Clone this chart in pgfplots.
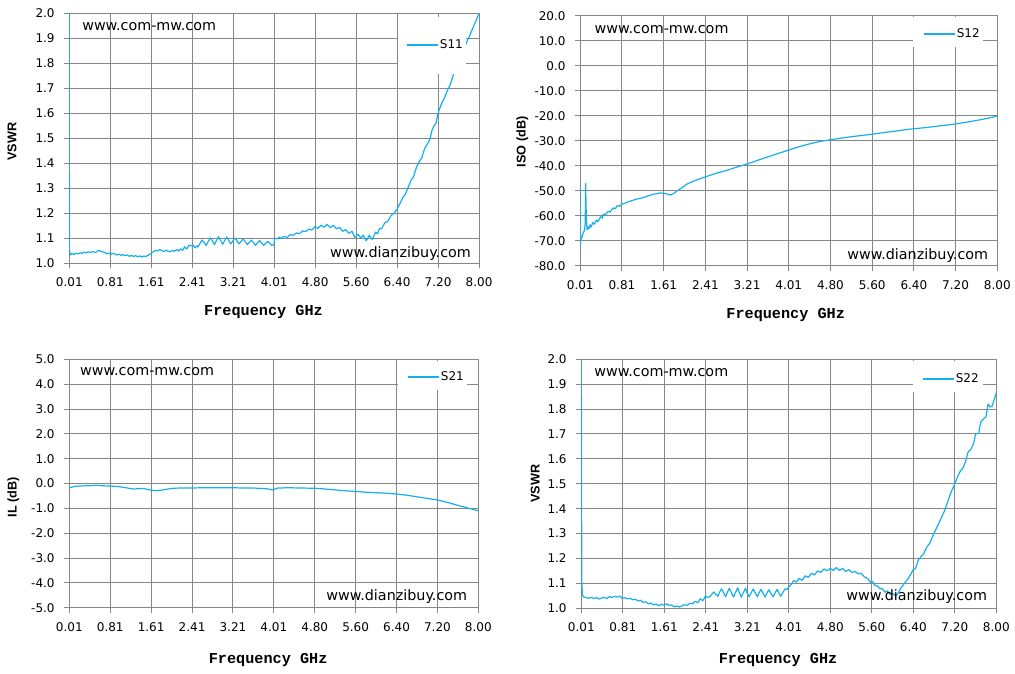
\documentclass[border=0pt]{standalone}
\usepackage{fontspec}
\setmainfont{DejaVu Sans}
\newfontfamily\lsans{Liberation Sans}
\newfontfamily\lmono{Liberation Mono}
\usepackage{pgfplots}
\pgfplotsset{compat=1.18}
\definecolor{gridgray}{RGB}{134,134,134}
\definecolor{lineblue}{RGB}{20,176,238}

\pgfplotsset{
  myaxis/.style={
    scale only axis,
    anchor=south west,
    xmin=0.01, xmax=8.0,
    xtick={0.01,0.809,1.608,2.407,3.206,4.005,4.804,5.603,6.402,7.201,8.0},
    xticklabels={0.01,0.81,1.61,2.41,3.21,4.01,4.80,5.60,6.40,7.20,8.00},
    grid=major,
    major grid style={gridgray, line width=0.75pt},
    axis line style={gridgray, line width=0.75pt},
    tick style={gridgray, line width=0.75pt},
    tick align=outside,
    major tick length=3.75pt,
    xtick pos=bottom, ytick pos=left,
    ticklabel style={font=\fontsize{9}{10}\selectfont, text=black},
    xticklabel style={yshift=-3.75pt},
    yticklabel style={xshift=-3.75pt},
    xlabel={Frequency GHz},
    xlabel style={font=\lmono\bfseries\fontsize{11.4}{13}\selectfont, anchor=center},
    ylabel style={font=\lsans\bfseries\fontsize{9.5}{11}\selectfont, anchor=center},
    legend style={draw=none, fill=none, inner sep=0pt, anchor=west, font=\fontsize{9}{10}\selectfont, nodes={inner sep=1pt}},
    legend image code/.code={\draw[#1] (0pt,0pt) -- (23.25pt,0pt);},
  },
}
\tikzset{wm/.style={anchor=base west, inner sep=0pt, font=\fontsize{10.75}{12}\selectfont, text=black},
  curve/.style={draw=lineblue, line width=0.9pt, mark=none, line join=round}}

\begin{document}
\begin{tikzpicture}
\path[use as bounding box] (0,0) rectangle (761.25pt,505.5pt);

% ---------------- S11 ----------------
\begin{axis}[myaxis,
  at={(51.98pt,308.0pt)}, width=307.3pt, height=187.5pt,
  ymin=1.0, ymax=2.0,
  ytick={1.0,1.1,1.2,1.3,1.4,1.5,1.6,1.7,1.8,1.9,2.0},
  yticklabels={1.0,1.1,1.2,1.3,1.4,1.5,1.6,1.7,1.8,1.9,2.0},
  ylabel={VSWR},
  ylabel style={at={(axis description cs:-0.14,0.487)}},
  xlabel style={at={(axis description cs:0.474,-0.195)}},
  legend style={at={(rel axis cs:0.822,0.873)}},
]
\addplot[curve] coordinates {
(0.010,2.000)(0.012,1.300)(0.015,1.050)(0.03,1.033)(0.06,1.040)(0.10,1.035)(0.14,1.040)(0.18,1.038)
(0.22,1.042)(0.26,1.040)(0.30,1.045)(0.34,1.042)(0.38,1.046)(0.42,1.043)(0.46,1.047)(0.50,1.044)
(0.54,1.045)(0.58,1.052)(0.62,1.048)(0.66,1.046)(0.70,1.044)(0.74,1.038)(0.78,1.041)(0.82,1.036)
(0.86,1.040)(0.90,1.037)(0.94,1.033)(0.98,1.037)(1.02,1.032)(1.06,1.035)(1.10,1.030)(1.14,1.034)
(1.18,1.028)(1.22,1.032)(1.26,1.027)(1.30,1.031)(1.34,1.026)(1.38,1.030)(1.42,1.025)(1.46,1.029)
(1.50,1.027)(1.54,1.032)(1.58,1.036)(1.62,1.042)(1.66,1.048)(1.70,1.052)(1.74,1.050)(1.78,1.055)
(1.82,1.050)(1.86,1.047)(1.90,1.053)(1.94,1.048)(1.98,1.046)(2.02,1.052)(2.06,1.048)(2.10,1.055)
(2.14,1.049)(2.18,1.058)(2.22,1.052)(2.26,1.066)(2.30,1.057)(2.34,1.072)(2.38,1.070)(2.42,1.074)
(2.46,1.062)(2.50,1.070)
(2.52,1.065)(2.56,1.080)(2.60,1.093)(2.64,1.083)(2.68,1.072)(2.72,1.088)(2.76,1.102)(2.80,1.090)
(2.84,1.075)(2.88,1.091)(2.92,1.106)(2.96,1.092)(3.00,1.076)(3.04,1.091)(3.08,1.105)(3.12,1.091)
(3.16,1.078)(3.20,1.090)(3.24,1.101)(3.28,1.090)(3.32,1.078)(3.36,1.088)(3.40,1.097)(3.44,1.087)
(3.48,1.075)(3.52,1.084)(3.56,1.093)(3.60,1.083)(3.64,1.072)(3.68,1.082)(3.72,1.091)(3.76,1.082)
(3.80,1.072)(3.84,1.080)(3.88,1.088)(3.92,1.080)(3.96,1.072)(4.00,1.074)(4.015,1.100)
(4.06,1.098)(4.10,1.104)(4.14,1.100)(4.20,1.108)(4.26,1.104)(4.32,1.115)(4.38,1.112)(4.44,1.122)
(4.50,1.118)(4.56,1.130)(4.62,1.127)(4.68,1.137)(4.74,1.133)(4.80,1.147)(4.86,1.140)(4.92,1.153)
(4.98,1.145)(5.04,1.156)(5.10,1.143)(5.16,1.152)(5.22,1.138)(5.28,1.144)(5.34,1.128)(5.40,1.135)
(5.46,1.120)(5.52,1.128)(5.58,1.104)(5.64,1.116)(5.70,1.100)(5.74,1.113)(5.80,1.090)(5.86,1.112)
(5.92,1.095)(5.98,1.125)(6.02,1.118)(6.06,1.140)(6.10,1.138)(6.16,1.162)(6.22,1.168)(6.28,1.190)
(6.34,1.200)(6.40,1.216)(6.46,1.240)(6.52,1.265)(6.56,1.275)(6.62,1.305)(6.68,1.335)(6.72,1.345)
(6.78,1.385)(6.84,1.410)(6.88,1.420)(6.94,1.460)(7.00,1.480)(7.04,1.495)(7.08,1.530)(7.12,1.550)
(7.16,1.560)(7.20,1.600)(7.26,1.635)(7.32,1.660)(7.38,1.690)(7.44,1.715)(7.50,1.755)(7.58,1.790)
(7.64,1.820)(7.70,1.855)(7.76,1.885)(7.82,1.912)(7.88,1.942)(7.94,1.970)(8.00,2.000)
};
\addlegendentry{S11}
\fill[white] (rel axis cs:0.802,0.757) rectangle (rel axis cs:0.968,0.985);
\node[wm] at (rel axis cs:0.031,0.930) {www.com-mw.com};
\node[wm] at (rel axis cs:0.636,0.024) {www.dianzibuy.com};
\end{axis}

% ---------------- S12 ----------------
\begin{axis}[myaxis,
  at={(435.2pt,306.0pt)}, width=312.75pt, height=187.5pt,
  ymin=-80, ymax=20,
  ytick={-80,-70,-60,-50,-40,-30,-20,-10,0,10,20},
  yticklabels={-80.0,-70.0,-60.0,-50.0,-40.0,-30.0,-20.0,-10.0,0.0,10.0,20.0},
  ylabel={ISO (dB)},
  ylabel style={at={(axis description cs:-0.139,0.497)}},
  xlabel style={at={(axis description cs:0.4926,-0.196)}},
  legend style={at={(rel axis cs:0.822,0.928)}},
]
\addplot[curve] coordinates {
(0.010,-72.5)(0.011,-48.5)(0.013,-71)(0.03,-69)(0.05,-68)(0.07,-66.5)(0.09,-66)(0.105,-63)
(0.113,-47)(0.125,-60)(0.14,-65.5)(0.16,-64.3)(0.18,-65)(0.20,-63.5)(0.22,-64.4)(0.25,-62.6)
(0.28,-63.3)(0.32,-61.6)(0.35,-62.2)(0.40,-60.3)(0.43,-60.9)(0.45,-59.3)(0.50,-59.3)(0.55,-58.0)
(0.58,-58.5)(0.64,-56.8)(0.68,-57.1)(0.72,-55.8)(0.76,-56.1)(0.81,-55.2)(0.86,-55.0)(0.90,-54.5)
(1.02,-53.7)(1.10,-53.2)(1.21,-52.7)(1.30,-52.0)(1.41,-51.3)(1.54,-50.8)(1.62,-50.9)(1.70,-51.4)
(1.74,-51.6)(1.80,-51.0)(1.85,-50.2)(1.95,-48.8)(2.05,-47.3)(2.15,-46.3)(2.24,-45.6)(2.40,-44.4)
(2.60,-43.0)(2.81,-41.8)(3.00,-40.5)(3.21,-39.2)(3.40,-37.8)(3.61,-36.3)(3.80,-35.0)(4.01,-33.6)
(4.20,-32.3)(4.41,-31.1)(4.60,-30.2)(4.80,-29.5)(5.00,-28.9)(5.20,-28.3)(5.40,-27.8)(5.60,-27.3)
(5.80,-26.7)(6.00,-26.2)(6.20,-25.6)(6.40,-25.1)(6.60,-24.7)(6.80,-24.2)(7.00,-23.7)(7.20,-23.2)
(7.40,-22.5)(7.60,-21.8)(7.80,-21.0)(8.00,-20.0)
};
\addlegendentry{S12}
\fill[white] (rel axis cs:0.798,0.876) rectangle (rel axis cs:0.966,0.995);
\node[wm] at (rel axis cs:0.034,0.928) {www.com-mw.com};
\node[wm] at (rel axis cs:0.640,0.024) {www.dianzibuy.com};
\end{axis}

% ---------------- S21 ----------------
\begin{axis}[myaxis,
  at={(52.0pt,49.7pt)}, width=306.75pt, height=186.3pt,
  ymin=-5, ymax=5,
  ytick={-5,-4,-3,-2,-1,0,1,2,3,4,5},
  yticklabels={-5.0,-4.0,-3.0,-2.0,-1.0,0.0,1.0,2.0,3.0,4.0,5.0},
  ylabel={IL (dB)},
  ylabel style={at={(axis description cs:-0.137,0.444)}},
  xlabel style={at={(axis description cs:0.486,-0.212)}},
  legend style={at={(rel axis cs:0.826,0.929)}},
]
\addplot[curve] coordinates {
(0.01,-0.18)(0.10,-0.12)(0.20,-0.10)(0.35,-0.09)(0.54,-0.07)(0.65,-0.09)(0.80,-0.10)(0.95,-0.12)
(1.06,-0.15)(1.20,-0.20)(1.26,-0.22)(1.35,-0.21)(1.45,-0.20)(1.55,-0.24)(1.68,-0.29)(1.80,-0.27)
(1.91,-0.23)(2.04,-0.19)(2.20,-0.18)(2.41,-0.18)(2.60,-0.17)(2.89,-0.17)(3.21,-0.17)(3.40,-0.18)
(3.60,-0.18)(3.86,-0.21)(3.99,-0.26)(4.05,-0.20)(4.09,-0.18)(4.30,-0.17)(4.51,-0.18)(4.80,-0.19)
(5.00,-0.22)(5.16,-0.25)(5.40,-0.29)(5.61,-0.32)(5.80,-0.35)(6.00,-0.37)(6.20,-0.39)(6.40,-0.42)
(6.60,-0.47)(6.79,-0.53)(7.00,-0.60)(7.20,-0.66)(7.40,-0.76)(7.60,-0.88)(7.77,-0.97)(8.00,-1.10)
};
\addlegendentry{S21}
\fill[white] (rel axis cs:0.804,0.876) rectangle (rel axis cs:0.973,0.995);
\node[wm] at (rel axis cs:0.026,0.933) {www.com-mw.com};
\node[wm] at (rel axis cs:0.628,0.031) {www.dianzibuy.com};
\end{axis}

% ---------------- S22 ----------------
\begin{axis}[myaxis,
  at={(436.0pt,49.3pt)}, width=311.25pt, height=186.75pt,
  ymin=1.0, ymax=2.0,
  ytick={1.0,1.1,1.2,1.3,1.4,1.5,1.6,1.7,1.8,1.9,2.0},
  yticklabels={1.0,1.1,1.2,1.3,1.4,1.5,1.6,1.7,1.8,1.9,2.0},
  ylabel={VSWR},
  ylabel style={at={(axis description cs:-0.111,0.5)}},
  xlabel style={at={(axis description cs:0.474,-0.209)}},
  legend style={at={(rel axis cs:0.821,0.921)}},
]
\addplot[curve] coordinates {
(0.010,2.000)(0.015,1.400)(0.020,1.100)(0.03,1.055)(0.05,1.046)(0.10,1.043)(0.15,1.040)(0.20,1.044)
(0.25,1.039)(0.30,1.043)(0.35,1.037)(0.40,1.041)(0.45,1.044)(0.50,1.039)(0.55,1.047)(0.60,1.043)
(0.65,1.048)(0.70,1.045)(0.75,1.049)(0.80,1.040)(0.85,1.042)(0.90,1.038)(0.95,1.040)(1.00,1.034)
(1.05,1.036)(1.10,1.030)(1.15,1.032)(1.20,1.024)(1.25,1.026)(1.30,1.018)(1.35,1.021)(1.40,1.014)
(1.45,1.017)(1.50,1.010)(1.55,1.016)(1.60,1.013)(1.65,1.017)(1.70,1.012)(1.75,1.013)(1.80,1.006)
(1.85,1.009)(1.90,1.005)(1.95,1.010)(2.00,1.014)(2.05,1.012)(2.10,1.020)(2.15,1.018)(2.20,1.028)
(2.25,1.022)(2.30,1.038)(2.35,1.030)(2.40,1.050)(2.44,1.044)
(2.48,1.045)(2.52,1.056)(2.56,1.065)(2.60,1.056)(2.64,1.048)(2.67,1.064)(2.71,1.078)(2.75,1.062)
(2.79,1.046)(2.82,1.064)(2.86,1.080)(2.90,1.062)(2.94,1.045)(2.98,1.064)(3.02,1.082)(3.05,1.064)
(3.09,1.045)(3.13,1.063)(3.17,1.080)(3.20,1.063)(3.24,1.046)(3.28,1.062)(3.32,1.077)(3.36,1.061)
(3.40,1.046)(3.43,1.061)(3.47,1.076)(3.51,1.060)(3.55,1.045)(3.58,1.060)(3.62,1.074)(3.66,1.060)
(3.70,1.046)(3.74,1.061)(3.78,1.076)(3.81,1.062)(3.85,1.048)(3.89,1.063)(3.93,1.078)(3.97,1.075)
(4.00,1.085)(4.05,1.095)(4.10,1.112)(4.15,1.105)(4.20,1.120)(4.26,1.112)(4.32,1.130)(4.38,1.124)
(4.44,1.140)(4.50,1.134)(4.56,1.150)(4.62,1.144)(4.68,1.158)(4.74,1.150)(4.80,1.160)(4.86,1.152)
(4.92,1.163)(4.98,1.152)(5.04,1.160)(5.10,1.148)(5.16,1.155)(5.22,1.144)(5.28,1.148)(5.34,1.138)
(5.40,1.140)(5.46,1.126)(5.52,1.120)(5.58,1.104)(5.62,1.108)(5.66,1.092)(5.72,1.088)(5.76,1.078)
(5.80,1.080)(5.86,1.064)(5.90,1.070)(5.96,1.055)(6.00,1.060)(6.06,1.050)(6.10,1.058)(6.16,1.080)
(6.20,1.092)(6.26,1.108)(6.30,1.118)(6.36,1.140)(6.40,1.155)(6.44,1.158)(6.50,1.195)(6.56,1.210)
(6.60,1.218)(6.66,1.245)(6.72,1.262)(6.78,1.292)(6.84,1.318)(6.90,1.345)(6.96,1.372)(7.00,1.390)
(7.06,1.425)(7.12,1.462)(7.20,1.500)(7.26,1.532)(7.30,1.548)(7.36,1.565)(7.40,1.585)(7.46,1.630)
(7.50,1.635)(7.56,1.660)(7.60,1.700)(7.66,1.702)(7.70,1.748)(7.76,1.762)(7.80,1.768)(7.84,1.820)
(7.88,1.808)(7.92,1.812)(7.96,1.840)(8.00,1.865)
};
\addlegendentry{S22}
\fill[white] (rel axis cs:0.799,0.869) rectangle (rel axis cs:0.968,0.995);
\node[wm] at (rel axis cs:0.031,0.930) {www.com-mw.com};
\node[wm] at (rel axis cs:0.638,0.033) {www.dianzibuy.com};
\end{axis}
\end{tikzpicture}
\end{document}
